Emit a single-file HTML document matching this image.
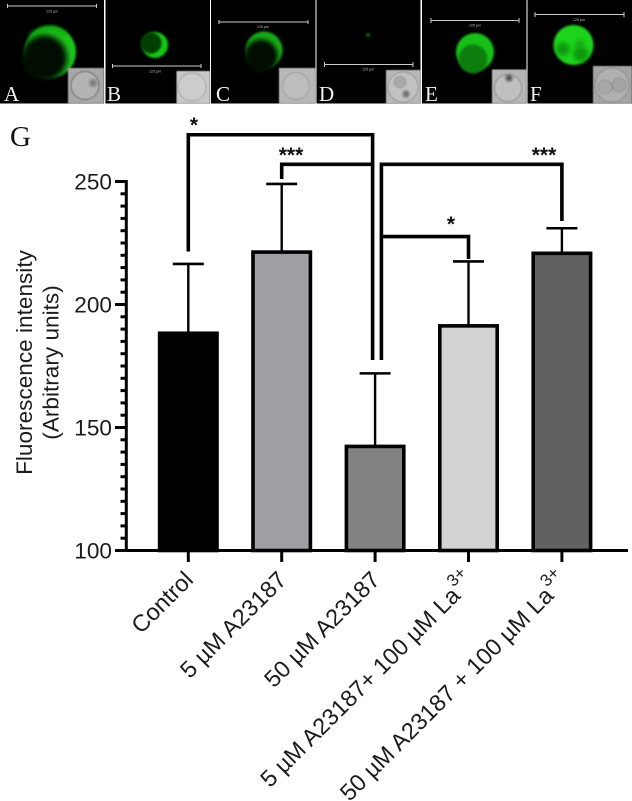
<!DOCTYPE html>
<html lang="en">
<head>
<meta charset="utf-8">
<title>Fluorescence intensity chart</title>
<style>
html,body{margin:0;padding:0;background:#fff;}
#fig{display:block;width:632px;height:801px;font-family:"Liberation Sans",sans-serif;}
.tick-label,.axis-title{fill:#1c1c1c;font-family:"Liberation Sans",sans-serif;font-size:22.6px;}
.cat-label{fill:#1c1c1c;font-family:"Liberation Sans",sans-serif;font-size:23.5px;}
.cat-sup{fill:#1c1c1c;font-family:"Liberation Sans",sans-serif;font-size:17px;}
.panel-letter{fill:#f2f2f2;font-family:"Liberation Serif",serif;font-size:21px;}
.scale-text{fill:#bbb;font-family:"Liberation Sans",sans-serif;font-size:3.6px;text-anchor:middle;}
.scale-bar{stroke:#ccc;stroke-width:1;fill:none;}
.sig-star{fill:#111;font-family:"Liberation Sans",sans-serif;font-size:21px;font-weight:bold;text-anchor:middle;}
.bar-0{fill:#000;}
.bar-1{fill:#a09fa3;}
.bar-2{fill:#828282;}
.bar-3{fill:#d3d3d3;}
.bar-4{fill:#616161;}
</style>
</head>
<body>
<svg id="fig" xmlns="http://www.w3.org/2000/svg" width="632" height="801" viewBox="0 0 632 801">
<defs>
<filter id="b05" x="-20%" y="-20%" width="140%" height="140%"><feGaussianBlur stdDeviation="0.6"/></filter>
<filter id="b1" x="-40%" y="-40%" width="180%" height="180%"><feGaussianBlur stdDeviation="1"/></filter>
<filter id="b2" x="-40%" y="-40%" width="180%" height="180%"><feGaussianBlur stdDeviation="2"/></filter>
<filter id="b3" x="-40%" y="-40%" width="180%" height="180%"><feGaussianBlur stdDeviation="3"/></filter>
</defs>
<rect width="632" height="801" fill="#fff"/>

<g>
<rect x="0" y="0" width="104" height="103.5" fill="#000"/>
<circle cx="50" cy="52" r="26" fill="#1fc41f" filter="url(#b1)"/>
<circle cx="44" cy="58" r="23" fill="#021002" filter="url(#b3)"/>
<path d="M30 36 Q50 20 66 34" stroke="#0f9a0f" stroke-width="3" fill="none" filter="url(#b2)"/>
<path d="M7.5 4v4M7.5 6H96.5M96.5 4v4" class="scale-bar"/><text x="52" y="12.5" class="scale-text">125 µm</text>
<g filter="url(#b05)"><rect x="68" y="68" width="36" height="35.5" fill="#a8a8a8"/><circle cx="85" cy="85.5" r="14" fill="#b4b4b4" stroke="#777" stroke-width="1.2"/><circle cx="93" cy="83" r="4" fill="#808080" filter="url(#b1)"/></g>
<text x="4" y="101" class="panel-letter">A</text>
</g>

<g>
<rect x="105.5" y="0" width="104.5" height="103.5" fill="#000"/>
<circle cx="155" cy="45" r="13" fill="#18c818" filter="url(#b1)"/>
<circle cx="151" cy="43" r="10.5" fill="#053d05" filter="url(#b1)"/>
<path d="M112.5 64v4M112.5 66H201M201 64v4" class="scale-bar"/><text x="155" y="72.5" class="scale-text">125 µm</text>
<g filter="url(#b05)"><rect x="176.5" y="71" width="33.5" height="32.5" fill="#c8c8c8"/><circle cx="192" cy="87" r="14" fill="#cdcdcd" stroke="#949494" stroke-width="0.7"/></g>
<text x="107" y="101" class="panel-letter">B</text>
</g>

<g>
<rect x="211" y="0" width="104.5" height="103.5" fill="#000"/>
<circle cx="264" cy="50" r="18.5" fill="#16a816" filter="url(#b1)"/>
<circle cx="261" cy="56" r="16.5" fill="#011001" filter="url(#b2)"/>
<path d="M219 20v4M219 22H308M308 20v4" class="scale-bar"/><text x="263" y="28" class="scale-text">125 µm</text>
<g filter="url(#b05)"><rect x="279" y="68" width="36.5" height="35.5" fill="#b8b8b8"/><circle cx="296" cy="86" r="13.5" fill="#bdbdbd" stroke="#909090" stroke-width="0.7"/></g>
<text x="216" y="101" class="panel-letter">C</text>
</g>

<g>
<rect x="316.5" y="0" width="104" height="103.5" fill="#000"/>
<circle cx="368" cy="35" r="1.8" fill="#0f800f" filter="url(#b1)"/>
<path d="M324.5 62v5M324.5 64.5H413M413 62v5" class="scale-bar"/><text x="368" y="70.5" class="scale-text">125 µm</text>
<g filter="url(#b05)"><rect x="386" y="70" width="34.5" height="33.5" fill="#b8b8b8"/><circle cx="403" cy="87" r="15" fill="#c2c2c2" stroke="#858585" stroke-width="0.7"/><circle cx="400" cy="82" r="6" fill="#aaa" stroke="#909090" stroke-width="0.6"/><circle cx="406" cy="94" r="3.5" fill="#707070" filter="url(#b1)"/></g>
<text x="319" y="101" class="panel-letter">D</text>
</g>

<g>
<rect x="422" y="0" width="104.5" height="103.5" fill="#000"/>
<circle cx="475" cy="52" r="19" fill="#18c018" filter="url(#b1)"/>
<circle cx="473" cy="59" r="14.5" fill="#0e7d0e" filter="url(#b1)"/>
<path d="M431 18v5M431 20.5H519M519 18v5" class="scale-bar"/><text x="475" y="26.5" class="scale-text">125 µm</text>
<g filter="url(#b05)"><rect x="492" y="69.5" width="34.5" height="34" fill="#b5b5b5"/><circle cx="508" cy="88" r="13.5" fill="#c0c0c0" stroke="#808080" stroke-width="0.7"/><circle cx="509" cy="78" r="3.5" fill="#555" filter="url(#b1)"/></g>
<text x="425" y="101" class="panel-letter">E</text>
</g>

<g>
<rect x="527.5" y="0" width="104.5" height="103.5" fill="#000"/>
<circle cx="573.5" cy="45" r="20" fill="#1fd41f" filter="url(#b1)"/>
<circle cx="563" cy="49" r="6.5" fill="#10960f" filter="url(#b2)"/>
<circle cx="581" cy="54" r="7.5" fill="#10960f" filter="url(#b2)"/>
<circle cx="580" cy="44" r="4.5" fill="#15a815" filter="url(#b2)"/>
<path d="M535 12v5M535 14.5H624M624 12v5" class="scale-bar"/><text x="579" y="21" class="scale-text">125 µm</text>
<g filter="url(#b05)"><rect x="593" y="66" width="39" height="37.5" fill="#a4a4a4"/><circle cx="612" cy="85" r="17" fill="#b0b0b0" stroke="#808080" stroke-width="0.7"/><circle cx="605" cy="87" r="7" fill="#a8a8a8" stroke="#808080" stroke-width="0.6"/><circle cx="619" cy="85" r="7" fill="#a4a4a4" stroke="#808080" stroke-width="0.6"/></g>
<text x="530" y="101" class="panel-letter">F</text>
</g>

<text x="10" y="146" style="font-family:'Liberation Serif',serif;font-size:29px;fill:#111">G</text>
<g id="chart"></g>
</svg>

<script>
// ---- chart data ----
const categories = ["Control", "5 µM A23187", "50 µM A23187", "5 µM A23187+ 100 µM La", "50 µM A23187 + 100 µM La"];
const superscripts = ["", "", "", "3+", "3+"];
const means = [189, 222, 143, 192, 221.5];
const errorTops = [216.5, 249, 172, 217.5, 231];
const yTicks = [100, 150, 200, 250];
const minorStep = [5];
// ---- bracket levels, in axis units ----
const sigLevels = [269, 257, 227.6];
const sigLabels = ["*", "***", "*", "***"];

const NS = "http://www.w3.org/2000/svg";
const root = document.getElementById("chart");
const y = v => 550.5 + (100 - v) * 2.46;
const x = i => 188.3 + i * 93.4;

function mk(tag, attrs, parent) {
  const e = document.createElementNS(NS, tag);
  for (const k in attrs) e.setAttribute(k, attrs[k]);
  (parent || root).appendChild(e);
  return e;
}

// bars and error bars
categories.forEach((c, i) => {
  const top = y(means[i]) + 1.7;
  const bar = mk("rect", {x: x(i) - 28.7, y: top, width: 57.4, height: 550.5 - top, class: "bar-" + i, stroke: "#000", "stroke-width": 3.6});
  
  
  const stem = mk("line", {x1: x(i), x2: x(i), y1: y(errorTops[i]), y2: top, stroke: "#000", "stroke-width": 2.4});
  
  
  const cap = mk("line", {x1: x(i) - 15.5, x2: x(i) + 15.5, y1: y(errorTops[i]), y2: y(errorTops[i]), stroke: "#000", "stroke-width": 2.6});
  
  
});

// y axis
const ySpine = mk("line", {x1: 126.3, x2: 126.3, y1: y(250) - 1.5, y2: y(100) + 1.5, stroke: "#000", "stroke-width": 3});


for (let v = yTicks[0]; v <= yTicks[yTicks.length - 1]; v += minorStep[0]) {
  const major = yTicks.includes(v);
  const t = mk("line", {x1: major ? 115 : 120.5, x2: 126.3, y1: y(v), y2: y(v), stroke: "#000", "stroke-width": 3});
  
  
}
yTicks.forEach(v => {
  const t = mk("text", {x: 112, y: y(v) + 8.2, "text-anchor": "end", class: "tick-label"});
  t.textContent = v;
  
  
});

// x axis
const xSpine = mk("line", {x1: 115, x2: 628, y1: y(100), y2: y(100), stroke: "#000", "stroke-width": 3});


categories.forEach((c, i) => {
  const t = mk("line", {x1: x(i), x2: x(i), y1: y(100), y2: 562, stroke: "#000", "stroke-width": 3});
  
  
  const hasSup = superscripts[i] !== "";
  const ax = x(i) + (hasSup ? -7 : 6.3);
  const ay = hasSup ? 597 : 581.2;
  const lab = mk("text", {x: 0, y: 0, "text-anchor": "end", class: "cat-label", transform: "translate(" + ax + "," + ay + ") rotate(-45)"});
  
  
  lab.textContent = c;
  if (hasSup) {
    const s = mk("text", {x: 1, y: -12.4, class: "cat-sup", transform: "translate(" + ax + "," + ay + ") rotate(-45)"});
    s.textContent = superscripts[i];
    
    
  }
});

// axis title
const t1 = mk("text", {"text-anchor": "middle", class: "axis-title", transform: "translate(32,362.5) rotate(-90)"});
t1.textContent = "Fluorescence intensity";


const t2 = mk("text", {"text-anchor": "middle", class: "axis-title", transform: "translate(58.5,362.5) rotate(-90)"});
t2.textContent = "(Arbitrary units)";



// significance brackets
const LEFT = 372.6, RIGHT = 381.4, BOTTOM = 360;
const sb = {fill: "none", stroke: "#000", "stroke-width": 3.6, "stroke-linejoin": "miter"};
const br1 = mk("path", Object.assign({d: "M" + x(0) + " 251.5V" + y(sigLevels[0]) + "H" + LEFT + "V" + BOTTOM}, sb));


const br2 = mk("path", Object.assign({d: "M" + x(1) + " 179V" + y(sigLevels[1]) + "H" + LEFT}, sb));


const br3 = mk("path", Object.assign({d: "M" + RIGHT + " " + BOTTOM + "V" + y(sigLevels[1]) + "H" + x(4) + "V221"}, sb));


const br4 = mk("path", Object.assign({d: "M" + RIGHT + " " + y(sigLevels[2]) + "H" + x(3) + "V259"}, sb));



// significance stars
const starX = [194, 291, 451, 544];
const starY = [132, 162, 231, 162];
sigLabels.forEach((s, i) => {
  const t = mk("text", {x: starX[i], y: starY[i], class: "sig-star"});
  t.textContent = s;
  
  
});
</script>
</body>
</html>
